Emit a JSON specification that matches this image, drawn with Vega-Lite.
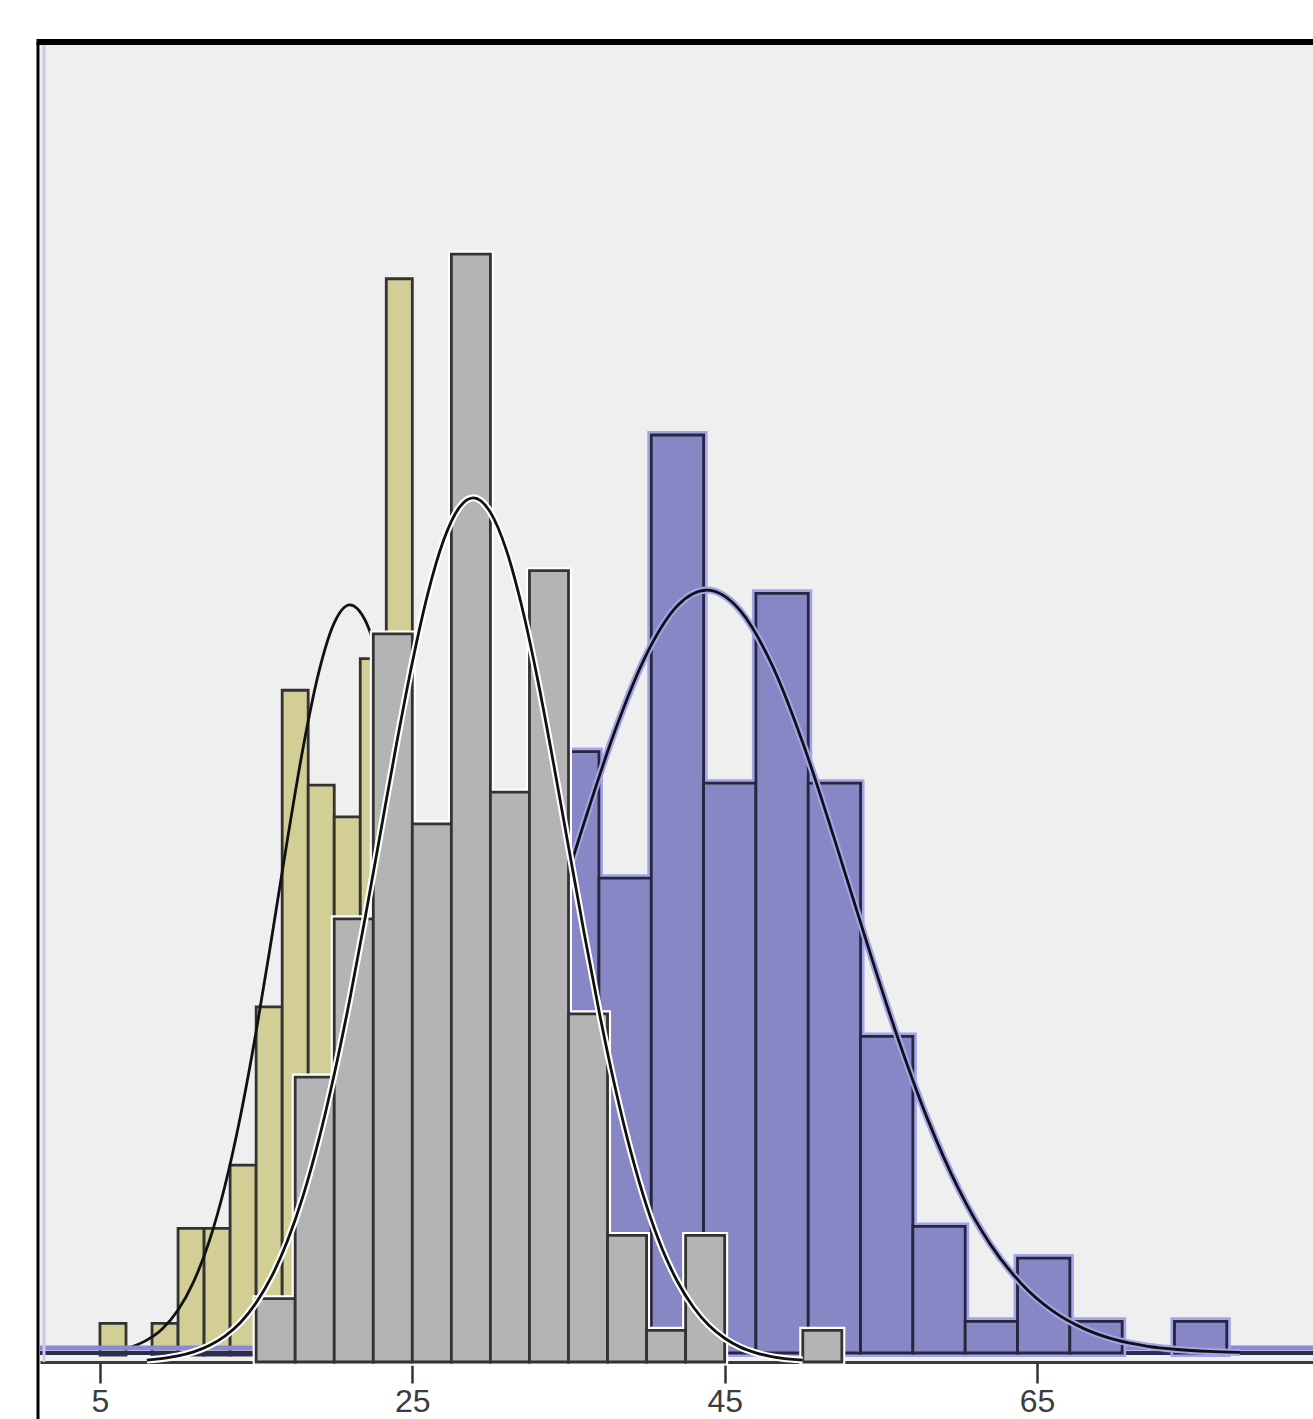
{
  "$schema": "https://vega.github.io/schema/vega-lite/v6.json",
  "width": 1273,
  "height": 1320,
  "autosize": {"type": "none"},
  "padding": {"left": 40, "top": 42, "right": 0, "bottom": 57},
  "background": "white",
  "config": {
    "view": {"fill": "#EFEFEF", "stroke": null},
    "axisX": {
      "domainColor": "#3a3a3a", "domainWidth": 3,
      "tickColor": "#333333", "tickWidth": 2.5, "tickSize": 21,
      "labelFont": "Liberation Sans", "labelFontSize": 32, "labelColor": "#3c3c3c",
      "labelPadding": 3, "grid": false, "zindex": 1, "labelFlush": false
    }
  },
  "datasets": {
    "tan": [
      {"x0": 5, "x1": 6.667, "count": 1},
      {"x0": 8.333, "x1": 10, "count": 1},
      {"x0": 10, "x1": 11.667, "count": 4},
      {"x0": 11.667, "x1": 13.333, "count": 4},
      {"x0": 13.333, "x1": 15, "count": 6},
      {"x0": 15, "x1": 16.667, "count": 11},
      {"x0": 16.667, "x1": 18.333, "count": 21},
      {"x0": 18.333, "x1": 20, "count": 18},
      {"x0": 20, "x1": 21.667, "count": 17},
      {"x0": 21.667, "x1": 23.333, "count": 22},
      {"x0": 23.333, "x1": 25, "count": 34}
    ],
    "grey": [
      {"x0": 15, "x1": 17.5, "count": 2},
      {"x0": 17.5, "x1": 20, "count": 9},
      {"x0": 20, "x1": 22.5, "count": 14},
      {"x0": 22.5, "x1": 25, "count": 23},
      {"x0": 25, "x1": 27.5, "count": 17},
      {"x0": 27.5, "x1": 30, "count": 35},
      {"x0": 30, "x1": 32.5, "count": 18},
      {"x0": 32.5, "x1": 35, "count": 25},
      {"x0": 35, "x1": 37.5, "count": 11},
      {"x0": 37.5, "x1": 40, "count": 4},
      {"x0": 40, "x1": 42.5, "count": 1},
      {"x0": 42.5, "x1": 45, "count": 4},
      {"x0": 50, "x1": 52.5, "count": 1}
    ],
    "blue": [
      {"x0": 33.6, "x1": 36.95, "count": 19},
      {"x0": 36.95, "x1": 40.3, "count": 15},
      {"x0": 40.3, "x1": 43.65, "count": 29},
      {"x0": 43.65, "x1": 47.0, "count": 18},
      {"x0": 47.0, "x1": 50.35, "count": 24},
      {"x0": 50.35, "x1": 53.7, "count": 18},
      {"x0": 53.7, "x1": 57.05, "count": 10},
      {"x0": 57.05, "x1": 60.4, "count": 4},
      {"x0": 60.4, "x1": 63.75, "count": 1},
      {"x0": 63.75, "x1": 67.1, "count": 3},
      {"x0": 67.1, "x1": 70.45, "count": 1},
      {"x0": 73.8, "x1": 77.15, "count": 1}
    ],
    "tanCurve": [
      {"x": 7, "y": 0.25}, {"x": 8, "y": 0.47}, {"x": 9, "y": 0.83}, {"x": 10, "y": 1.42},
      {"x": 11, "y": 2.32}, {"x": 12, "y": 3.6}, {"x": 13, "y": 5.34}, {"x": 14, "y": 7.56},
      {"x": 15, "y": 10.22}, {"x": 16, "y": 13.2}, {"x": 17, "y": 16.28}, {"x": 18, "y": 19.17},
      {"x": 19, "y": 21.55}, {"x": 20, "y": 23.13}, {"x": 21, "y": 23.7}, {"x": 22, "y": 23.19},
      {"x": 23, "y": 21.67}, {"x": 24, "y": 19.33}, {"x": 25, "y": 16.46}, {"x": 26, "y": 13.39},
      {"x": 27, "y": 10.4}, {"x": 28, "y": 7.71}, {"x": 29, "y": 5.46}, {"x": 30, "y": 3.69},
      {"x": 31, "y": 2.38}, {"x": 32, "y": 1.47}, {"x": 33, "y": 0.86}, {"x": 34, "y": 0.49},
      {"x": 35, "y": 0.26}
    ],
    "greyCurve": [
      {"x": 8, "y": 0.06}, {"x": 10, "y": 0.19}, {"x": 11, "y": 0.32}, {"x": 12, "y": 0.52},
      {"x": 13, "y": 0.82}, {"x": 14, "y": 1.25}, {"x": 15, "y": 1.87}, {"x": 16, "y": 2.71},
      {"x": 17, "y": 3.82}, {"x": 18, "y": 5.24}, {"x": 19, "y": 7.0}, {"x": 20, "y": 9.09},
      {"x": 21, "y": 11.47}, {"x": 22, "y": 14.09}, {"x": 23, "y": 16.83}, {"x": 24, "y": 19.56},
      {"x": 25, "y": 22.1}, {"x": 26, "y": 24.29}, {"x": 27, "y": 25.96}, {"x": 28, "y": 26.99},
      {"x": 28.9, "y": 27.3}, {"x": 30, "y": 26.84}, {"x": 31, "y": 25.68}, {"x": 32, "y": 23.89},
      {"x": 33, "y": 21.62}, {"x": 34, "y": 19.02}, {"x": 35, "y": 16.28}, {"x": 36, "y": 13.55},
      {"x": 37, "y": 10.97}, {"x": 38, "y": 8.64}, {"x": 39, "y": 6.62}, {"x": 40, "y": 4.93},
      {"x": 41, "y": 3.57}, {"x": 42, "y": 2.52}, {"x": 43, "y": 1.73}, {"x": 44, "y": 1.15},
      {"x": 45, "y": 0.75}, {"x": 46, "y": 0.47}, {"x": 47, "y": 0.29}, {"x": 48, "y": 0.17},
      {"x": 50, "y": 0.06}
    ],
    "blueCurve": [
      {"x": 20, "y": 0.84}, {"x": 22, "y": 1.44}, {"x": 24, "y": 2.35}, {"x": 26, "y": 3.67},
      {"x": 28, "y": 5.47}, {"x": 30, "y": 7.76}, {"x": 32, "y": 10.51}, {"x": 34, "y": 13.59},
      {"x": 36, "y": 16.75}, {"x": 38, "y": 19.69}, {"x": 40, "y": 22.08}, {"x": 42, "y": 23.62},
      {"x": 43.85, "y": 24.1}, {"x": 46, "y": 23.45}, {"x": 48, "y": 21.77}, {"x": 50, "y": 19.28},
      {"x": 52, "y": 16.28}, {"x": 54, "y": 13.12}, {"x": 56, "y": 10.08}, {"x": 58, "y": 7.38},
      {"x": 60, "y": 5.16}, {"x": 62, "y": 3.44}, {"x": 64, "y": 2.19}, {"x": 66, "y": 1.33},
      {"x": 68, "y": 0.77}, {"x": 70, "y": 0.42}, {"x": 72, "y": 0.22}, {"x": 74, "y": 0.11},
      {"x": 76, "y": 0.05}, {"x": 78, "y": 0.02}
    ]
  },
  "layer": [
    {
      "data": {"name": "tan"},
      "mark": {"type": "rect", "fill": "#D3CE96", "stroke": "#333333", "strokeWidth": 2.8, "yOffset": -7, "y2Offset": -7},
      "encoding": {
        "x": {"field": "x0", "type": "quantitative", "scale": {"domain": [1.16, 82.67], "nice": false, "zero": false}, "axis": {"values": [5, 25, 45, 65], "title": null}},
        "x2": {"field": "x1"},
        "y": {"field": "count", "type": "quantitative", "scale": {"domain": [0, 41.7], "nice": false}, "axis": null},
        "y2": {"datum": 0}
      }
    },
    {
      "data": {"name": "tanCurve"},
      "mark": {"type": "line", "color": "#111111", "strokeWidth": 2.8, "interpolate": "monotone", "yOffset": -7},
      "encoding": {
        "x": {"field": "x", "type": "quantitative", "scale": {"domain": [1.16, 82.67], "nice": false, "zero": false}, "title": null},
        "y": {"field": "y", "type": "quantitative", "scale": {"domain": [0, 41.7], "nice": false}, "axis": null}
      }
    },
    {
      "data": {"values": [{}]},
      "mark": {"type": "rule", "color": "#8A8AD8", "strokeWidth": 5, "yOffset": -14},
      "encoding": {"y": {"datum": 0, "type": "quantitative", "scale": {"domain": [0, 41.7], "nice": false}, "axis": null}}
    },
    {
      "data": {"values": [{}]},
      "mark": {"type": "rule", "color": "#2C2C52", "strokeWidth": 4, "yOffset": -9},
      "encoding": {"y": {"datum": 0, "type": "quantitative", "scale": {"domain": [0, 41.7], "nice": false}, "axis": null}}
    },
    {
      "data": {"name": "blue"},
      "mark": {"type": "rect", "fill": "#A3A3EA", "stroke": "#A3A3EA", "strokeWidth": 8, "yOffset": -9, "y2Offset": -9},
      "encoding": {
        "x": {"field": "x0", "type": "quantitative", "scale": {"domain": [1.16, 82.67], "nice": false, "zero": false}, "title": null},
        "x2": {"field": "x1"},
        "y": {"field": "count", "type": "quantitative", "scale": {"domain": [0, 41.7], "nice": false}, "axis": null},
        "y2": {"datum": 0}
      }
    },
    {
      "data": {"name": "blue"},
      "mark": {"type": "rect", "fill": "#8787C5", "stroke": "#26263f", "strokeWidth": 2.8, "yOffset": -9, "y2Offset": -9},
      "encoding": {
        "x": {"field": "x0", "type": "quantitative", "scale": {"domain": [1.16, 82.67], "nice": false, "zero": false}, "title": null},
        "x2": {"field": "x1"},
        "y": {"field": "count", "type": "quantitative", "scale": {"domain": [0, 41.7], "nice": false}, "axis": null},
        "y2": {"datum": 0}
      }
    },
    {
      "data": {"name": "blueCurve"},
      "mark": {"type": "line", "color": "#A3A3EA", "strokeWidth": 7, "interpolate": "monotone", "yOffset": -9},
      "encoding": {
        "x": {"field": "x", "type": "quantitative", "scale": {"domain": [1.16, 82.67], "nice": false, "zero": false}, "title": null},
        "y": {"field": "y", "type": "quantitative", "scale": {"domain": [0, 41.7], "nice": false}, "axis": null}
      }
    },
    {
      "data": {"name": "blueCurve"},
      "mark": {"type": "line", "color": "#111111", "strokeWidth": 2.8, "interpolate": "monotone", "yOffset": -9},
      "encoding": {
        "x": {"field": "x", "type": "quantitative", "scale": {"domain": [1.16, 82.67], "nice": false, "zero": false}, "title": null},
        "y": {"field": "y", "type": "quantitative", "scale": {"domain": [0, 41.7], "nice": false}, "axis": null}
      }
    },
    {
      "data": {"name": "grey"},
      "mark": {"type": "rect", "fill": "#FFFFFF", "stroke": "#FFFFFF", "strokeWidth": 7},
      "encoding": {
        "x": {"field": "x0", "type": "quantitative", "scale": {"domain": [1.16, 82.67], "nice": false, "zero": false}, "title": null},
        "x2": {"field": "x1"},
        "y": {"field": "count", "type": "quantitative", "scale": {"domain": [0, 41.7], "nice": false}, "axis": null},
        "y2": {"datum": 0}
      }
    },
    {
      "data": {"name": "grey"},
      "mark": {"type": "rect", "fill": "#B4B4B4", "stroke": "#333333", "strokeWidth": 2.8},
      "encoding": {
        "x": {"field": "x0", "type": "quantitative", "scale": {"domain": [1.16, 82.67], "nice": false, "zero": false}, "title": null},
        "x2": {"field": "x1"},
        "y": {"field": "count", "type": "quantitative", "scale": {"domain": [0, 41.7], "nice": false}, "axis": null},
        "y2": {"datum": 0}
      }
    },
    {
      "data": {"name": "greyCurve"},
      "mark": {"type": "line", "color": "#FFFFFF", "strokeWidth": 7, "interpolate": "monotone"},
      "encoding": {
        "x": {"field": "x", "type": "quantitative", "scale": {"domain": [1.16, 82.67], "nice": false, "zero": false}, "title": null},
        "y": {"field": "y", "type": "quantitative", "scale": {"domain": [0, 41.7], "nice": false}, "axis": null}
      }
    },
    {
      "data": {"name": "greyCurve"},
      "mark": {"type": "line", "color": "#111111", "strokeWidth": 2.8, "interpolate": "monotone"},
      "encoding": {
        "x": {"field": "x", "type": "quantitative", "scale": {"domain": [1.16, 82.67], "nice": false, "zero": false}, "title": null},
        "y": {"field": "y", "type": "quantitative", "scale": {"domain": [0, 41.7], "nice": false}, "axis": null}
      }
    },
    {
      "data": {"values": [{}]},
      "mark": {"type": "rule", "color": "#C9C9EC", "strokeWidth": 3, "xOffset": 4},
      "encoding": {
        "x": {"datum": 1.16, "type": "quantitative", "scale": {"domain": [1.16, 82.67], "nice": false, "zero": false}, "title": null},
        "y": {"datum": 41.7, "type": "quantitative", "scale": {"domain": [0, 41.7], "nice": false}, "axis": null},
        "y2": {"datum": 0}
      }
    },
    {
      "data": {"values": [{}]},
      "mark": {"type": "rule", "color": "#000000", "strokeWidth": 3, "xOffset": -2},
      "encoding": {
        "x": {"datum": 1.16, "type": "quantitative", "scale": {"domain": [1.16, 82.67], "nice": false, "zero": false}, "title": null},
        "y": {"datum": 41.7, "type": "quantitative", "scale": {"domain": [0, 41.7], "nice": false}, "axis": null},
        "y2": {"datum": -1.8}
      }
    },
    {
      "data": {"values": [{}]},
      "mark": {"type": "rule", "color": "#000000", "strokeWidth": 6, "xOffset": -3.5},
      "encoding": {
        "x": {"datum": 1.16, "type": "quantitative", "scale": {"domain": [1.16, 82.67], "nice": false, "zero": false}, "title": null},
        "x2": {"datum": 82.67},
        "y": {"datum": 41.7, "type": "quantitative", "scale": {"domain": [0, 41.7], "nice": false}, "axis": null}
      }
    }
  ]
}
